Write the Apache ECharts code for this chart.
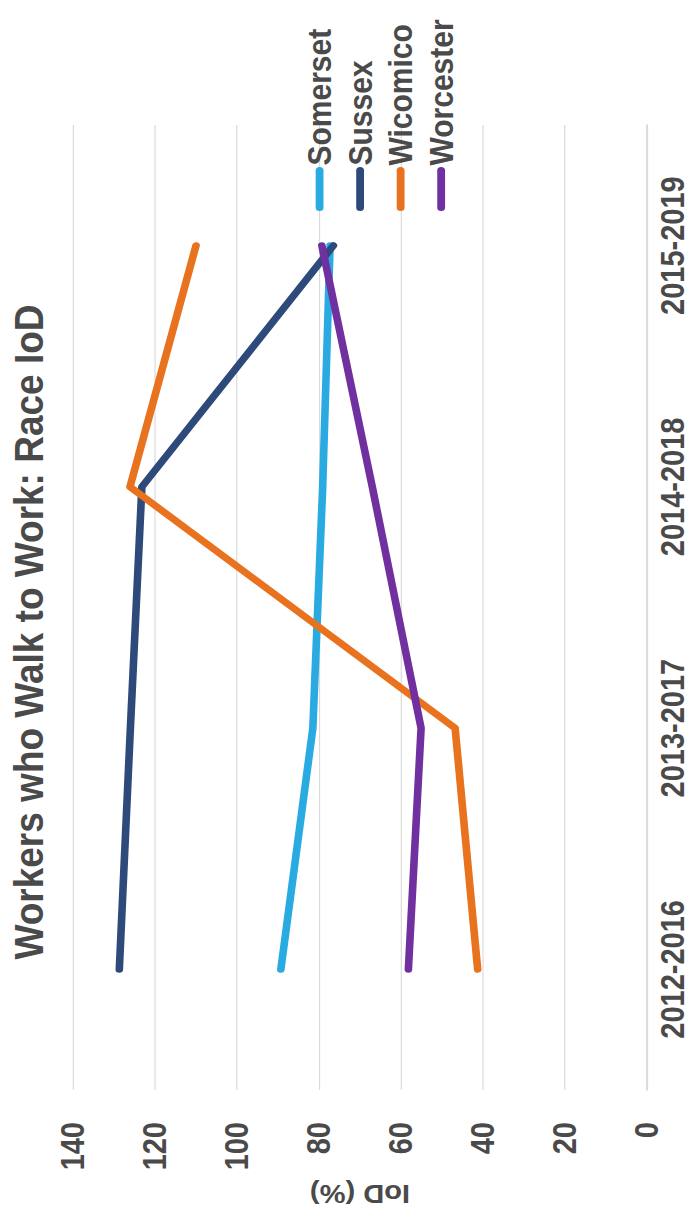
<!DOCTYPE html>
<html><head><meta charset="utf-8">
<script src="https://cdn.jsdelivr.net/npm/echarts@6/dist/echarts.min.js"></script>
<style>
html,body{margin:0;padding:0;background:#fff;overflow:hidden;width:694px;height:1219px;}
#chart{position:absolute;left:0;top:0;width:1219px;height:620px;transform-origin:0 0;transform:translate(0px,1219px) rotate(-90deg) scaleY(1.1194);}
</style></head><body><div id="chart"></div>
<script>
const titleText = 'Workers who Walk to Work: Race IoD';
const categories = ['2012-2016', '2013-2017', '2014-2018', '2015-2019'];
const somerset = [89.3, 81.5, 79.1, 77.3];
const sussex = [128.7, 126.0, 123.2, 76.5];
const wicomico = [41.3, 46.8, 126.1, 110.0];
const worcester = [58.2, 55.1, 67.0, 79.3];
const seriesNames = ['Somerset', 'Sussex', 'Wicomico', 'Worcester'];
const seriesColors = ['#29ABE2', '#2E4A7B', '#E8721E', '#7030A0'];
const seriesValues = [somerset, sussex, wicomico, worcester];

const FONT = '"Liberation Sans", Arial, sans-serif';
const TXT = '#4a4a4a';
const chart = echarts.init(document.getElementById('chart'), null, {renderer: 'svg'});
chart.setOption({
  animation: false,
  backgroundColor: '#fff',
  title: {
    text: titleText, left: 582, top: 2, textAlign: 'center',
    textStyle: {fontFamily: FONT, fontSize: 37, fontWeight: 'bold', color: TXT}
  },
  legend: {
    orient: 'vertical', left: 1003, top: 265.5,
    itemWidth: 37, itemHeight: 14, itemGap: 6.2,
    data: seriesNames,
    lineStyle: {width: 7, cap: 'round'},
    itemStyle: {opacity: 0},
    textStyle: {fontFamily: FONT, fontSize: 30, fontWeight: 'bold', color: TXT, lineHeight: 30}
  },
  grid: {left: 129, right: 125, top: 65.2, bottom: 42, containLabel: false},
  xAxis: {
    type: 'category', data: categories, boundaryGap: true,
    axisLine: {show: true, lineStyle: {color: '#d9d9d9', width: 1.5}},
    axisTick: {show: false},
    axisLabel: {margin: 9, fontFamily: FONT, fontSize: 29, fontWeight: 'bold', color: TXT},
    splitLine: {show: false}
  },
  yAxis: {
    type: 'value', min: 0, max: 140, interval: 20,
    name: 'IoD (%)', nameLocation: 'middle', nameRotate: 90, nameGap: 90,
    nameTextStyle: {fontFamily: FONT, fontSize: 26, fontWeight: 'bold', color: TXT},
    axisLine: {show: false}, axisTick: {show: false},
    axisLabel: {margin: 32, fontFamily: FONT, fontSize: 29, fontWeight: 'bold', color: TXT},
    splitLine: {lineStyle: {color: '#d9d9d9', width: 1}}
  },
  series: seriesNames.map((n, i) => ({
    name: n, type: 'line', data: seriesValues[i],
    symbol: 'none', showSymbol: false,
    itemStyle: {color: seriesColors[i]},
    lineStyle: {color: seriesColors[i], width: 6.8, cap: 'round', join: 'round'}
  }))
});
</script></body></html>
